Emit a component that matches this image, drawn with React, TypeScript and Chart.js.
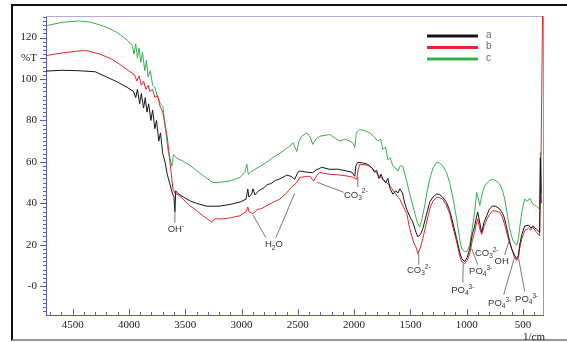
import React, { useEffect, useRef } from "react";
import { Chart, registerables } from "chart.js";

Chart.register(...registerables);

// ---- data (wavenumber in 1/cm, %T) ----
const aWn = [4737, 4600, 4450, 4300, 4200, 4100, 4018, 3960, 3940, 3925, 3905, 3890, 3870, 3855, 3840, 3825, 3805, 3790, 3770, 3755, 3735, 3720, 3700, 3680, 3660, 3640, 3615, 3600, 3592, 3585, 3560, 3500, 3459, 3400, 3308, 3200, 3100, 3015, 2960, 2944, 2935, 2910, 2899, 2880, 2850, 2800, 2775, 2740, 2700, 2650, 2598, 2560, 2527, 2500, 2482, 2420, 2367, 2340, 2287, 2216, 2150, 2065, 2020, 1994, 1985, 1967, 1920, 1879, 1840, 1820, 1800, 1780, 1760, 1745, 1720, 1700, 1680, 1656, 1630, 1610, 1594, 1570, 1550, 1532, 1500, 1479, 1450, 1435, 1410, 1390, 1360, 1328, 1300, 1266, 1240, 1213, 1180, 1151, 1120, 1089, 1060, 1044, 1018, 995, 973, 950, 929, 915, 902, 885, 867, 845, 822, 800, 769, 740, 707, 680, 662, 640, 620, 600, 575, 556, 540, 530, 510, 485, 450, 430, 414, 380, 352, 345, 338];
const aT = [103.8, 104.2, 104.0, 103.5, 101, 98.5, 96, 94, 91, 95, 88, 93, 86, 91, 84, 88, 80, 85, 76, 80, 70, 74, 64, 60, 54, 50, 45, 43, 36, 46, 44.5, 42.5, 41.2, 40, 38.6, 38.6, 39.5, 40.6, 42, 46.9, 43, 44.5, 47, 44, 46, 47.5, 49, 49.5, 51, 52, 53.6, 53, 51.6, 55, 55.6, 55, 54.8, 56, 57.4, 56.4, 56.5, 55.6, 55, 53, 58, 59.7, 59.5, 58.8, 57, 55, 56, 52, 54, 51.6, 50, 52, 47, 44.4, 46, 45, 47, 45, 40, 37, 33, 31, 26, 23.8, 25, 27.7, 34, 40.6, 43, 44.5, 44.2, 43, 40.5, 36.5, 30, 22.9, 16, 13.3, 11.8, 14, 18, 25, 29, 33, 35.8, 31, 26, 31, 34, 37, 38.8, 38.5, 37.3, 35, 32.5, 27, 22, 18, 15, 13.3, 15, 19.7, 25, 29, 29.5, 28, 29, 27.5, 26, 62, 40];

const bWn = [4737, 4600, 4450, 4373, 4258, 4150, 4080, 3991, 3950, 3930, 3910, 3890, 3870, 3850, 3830, 3814, 3790, 3770, 3745, 3725, 3700, 3680, 3660, 3640, 3620, 3610, 3590, 3560, 3500, 3459, 3400, 3343, 3290, 3263, 3240, 3166, 3100, 3015, 2960, 2944, 2935, 2899, 2860, 2820, 2775, 2720, 2660, 2600, 2571, 2544, 2510, 2482, 2420, 2394, 2360, 2330, 2305, 2216, 2150, 2065, 2012, 1976, 1965, 1950, 1900, 1861, 1820, 1790, 1772, 1730, 1683, 1650, 1610, 1594, 1568, 1532, 1506, 1470, 1444, 1435, 1415, 1390, 1360, 1328, 1300, 1266, 1240, 1213, 1180, 1151, 1120, 1089, 1060, 1044, 1018, 995, 973, 950, 929, 915, 902, 885, 867, 845, 822, 800, 769, 740, 707, 680, 662, 640, 620, 600, 575, 556, 540, 530, 510, 485, 450, 430, 414, 380, 352, 340, 325];
const bT = [111.3, 112.5, 113.5, 113.7, 112, 109.5, 107, 103.5, 102, 99, 101.5, 97, 99, 95, 97, 94, 95, 91, 92, 87, 84, 78, 72, 62, 52, 47, 44.8, 44, 41, 38.9, 36.5, 34, 32, 30.9, 32.5, 32.5, 33, 34, 36, 38.2, 36, 35, 37, 37.5, 38.9, 40.5, 42, 45, 46.9, 48.4, 50, 52.5, 53, 53, 50.8, 53.5, 54.9, 54, 53.8, 53.2, 52.6, 51.6, 56, 58.8, 58.6, 58, 56, 54, 53, 51, 48.4, 46, 43, 42, 38.9, 35, 27.7, 21, 18, 15.7, 18, 22.9, 30, 37.3, 41, 43, 42.8, 42, 39, 35, 28, 21.4, 14, 11.8, 10.9, 12.5, 15.7, 22, 26, 30, 32.5, 28, 25, 29, 32, 34.5, 36.5, 36.2, 35.7, 33, 29.6, 25, 21, 18, 14, 12.3, 14, 18, 23, 26.7, 28, 27, 28.6, 26, 24.3, 60, 135];

const cWn = [4737, 4600, 4450, 4350, 4284, 4200, 4107, 4009, 3970, 3955, 3940, 3925, 3910, 3895, 3880, 3860, 3845, 3830, 3810, 3790, 3770, 3750, 3720, 3698, 3680, 3654, 3630, 3618, 3605, 3580, 3521, 3450, 3396, 3320, 3254, 3180, 3103, 3015, 2970, 2953, 2940, 2920, 2882, 2800, 2722, 2650, 2571, 2544, 2509, 2490, 2465, 2420, 2390, 2367, 2340, 2305, 2216, 2127, 2080, 2038, 2010, 1994, 1980, 1950, 1900, 1861, 1820, 1790, 1765, 1745, 1720, 1700, 1680, 1656, 1630, 1612, 1590, 1568, 1530, 1479, 1440, 1417, 1395, 1373, 1350, 1328, 1300, 1266, 1240, 1213, 1180, 1151, 1120, 1089, 1060, 1044, 1018, 995, 973, 950, 929, 911, 895, 884, 860, 840, 800, 769, 730, 707, 680, 662, 640, 618, 590, 556, 540, 530, 510, 485, 460, 440, 414, 380, 352, 345, 335];
const cT = [125.7, 127.3, 128, 127.5, 126.5, 125, 122.5, 118.5, 116, 112, 117, 110, 115, 108, 113, 104, 109, 101, 104, 97, 96, 92, 88, 86.7, 78, 66, 60, 58, 63.6, 62, 60.4, 58, 55.6, 52.5, 50, 50.2, 50.8, 52.5, 55, 58.8, 54, 55, 56.4, 59, 62, 64.5, 67.6, 69.3, 65, 70, 72.4, 74, 72, 68.4, 71, 72.4, 73.2, 70, 71, 70, 69, 66.9, 74, 75.6, 75, 74, 72, 70, 71, 66, 67, 61, 62, 58, 57, 55.6, 58, 58, 50, 38.9, 31, 28.6, 33, 38.9, 46, 51.7, 57, 59.7, 59.5, 58, 55, 50, 42, 32.5, 22, 18, 16.6, 17, 19.7, 28, 36, 45.3, 42, 38.9, 45, 48.4, 51, 51.6, 50.5, 49.3, 46, 42, 35, 27.7, 22, 19.7, 23, 27.7, 36, 42, 41, 42.5, 39.7, 38.5, 37.3, 64.5, 45];

const seriesLabels = ["a", "b", "c"];
const seriesColors = ["#151515", "#e3262c", "#35b04e"];

const xMin = 322;
const xMax = 4737;
const yMin = -13.9;
const yMax = 130.4;
const yUnitTickValue = 110; // where "%T" sits on the axis
const xUnitLabel = "1/cm";

// annotation labels: [text, 0 normal | -1 subscript | 1 superscript]
type Part = [string, number];
const CO3: Part[] = [["CO", 0], ["3", -1], ["2-", 1]];
const PO4: Part[] = [["PO", 0], ["4", -1], ["3-", 1]];
const annotations: { parts: Part[]; wn: number; t: number; leaders: number[][] }[] = [
  { parts: [["OH", 0], ["-", 1]], wn: 3583, t: 27.2, leaders: [[3592, 30.6, 3592, 38.7]] },
  { parts: [["H", 0], ["2", -1], ["O", 0]], wn: 2713, t: 20, leaders: [[2784, 23.4, 2899, 34.4], [2695, 23.4, 2527, 44.9]] },
  { parts: CO3, wn: 1985, t: 44, leaders: [[2092, 45.3, 2331, 50.2], [1967, 47.8, 1967, 52.6]] },
  { parts: CO3, wn: 1426, t: 7.5, leaders: [[1426, 10.4, 1426, 17.1]] },
  { parts: PO4, wn: 1035, t: -2, leaders: [[1035, 1.8, 1030, 10.9]] },
  { parts: PO4, wn: 876, t: 7, leaders: [[902, 10.4, 955, 18.1]] },
  { parts: CO3, wn: 822, t: 15.7, leaders: [] },
  { parts: [["OH", 0]], wn: 689, t: 11.8, leaders: [[662, 15.1, 627, 21.4]] },
  { parts: PO4, wn: 707, t: -8.3, leaders: [[671, -4, 574, 14.2]] },
  { parts: PO4, wn: 467, t: -6.4, leaders: [[485, -2.5, 538, 13.3]] },
];

const toPoints = (xs: number[], ys: number[]) => xs.map((x, i) => ({ x, y: ys[i] }));

const AXIS_COLOR = "#5b5bc6";

function drawRich(ctx: CanvasRenderingContext2D, parts: Part[], cx: number, cy: number) {
  const big = "9.5px 'Liberation Sans', Arial, sans-serif";
  const small = "6.5px 'Liberation Sans', Arial, sans-serif";
  let total = 0;
  const widths = parts.map(([s, k]) => {
    ctx.font = k === 0 ? big : small;
    const w = ctx.measureText(s).width;
    total += w;
    return w;
  });
  let x = cx - total / 2;
  ctx.textBaseline = "middle";
  ctx.textAlign = "left";
  parts.forEach(([s, k], i) => {
    ctx.font = k === 0 ? big : small;
    const dy = k === -1 ? 3 : k === 1 ? -3.5 : 0;
    ctx.fillText(s, x, cy + dy);
    x += widths[i];
  });
}

const decorPlugin = {
  id: "decor",
  beforeDatasetsDraw(chart: any) {
    const { ctx, chartArea: ca } = chart;
    ctx.save();
    ctx.lineWidth = 1;
    ctx.strokeStyle = "#bca8d8";
    ctx.beginPath();
    ctx.moveTo(ca.left, ca.top + 0.5);
    ctx.lineTo(ca.right, ca.top + 0.5);
    ctx.stroke();
    ctx.strokeStyle = "#9c8fd0";
    ctx.beginPath();
    ctx.moveTo(ca.right + 0.5, ca.top);
    ctx.lineTo(ca.right + 0.5, ca.bottom);
    ctx.stroke();
    ctx.restore();
  },
  afterDraw(chart: any) {
    const { ctx, chartArea: ca, scales } = chart;
    const xs = scales.x;
    const ys = scales.y;
    ctx.save();
    // tick marks
    ctx.strokeStyle = AXIS_COLOR;
    ctx.lineWidth = 1;
    ys.ticks.forEach((t: any) => {
      const py = Math.round(ys.getPixelForValue(t.value)) + 0.5;
      const major = t.value % 20 === 0 || t.value === yUnitTickValue;
      const len = major ? 6 : 3;
      ctx.beginPath();
      ctx.moveTo(ca.left - len, py);
      ctx.lineTo(ca.left, py);
      ctx.stroke();
    });
    xs.ticks.forEach((t: any) => {
      const px = Math.round(xs.getPixelForValue(t.value)) + 0.5;
      const len = t.value % 500 === 0 ? 6 : 3;
      ctx.beginPath();
      ctx.moveTo(px, ca.bottom);
      ctx.lineTo(px, ca.bottom - len);
      ctx.stroke();
    });
    // unit label
    ctx.fillStyle = "#222";
    ctx.font = "11px 'Liberation Serif', 'Times New Roman', serif";
    ctx.textAlign = "right";
    ctx.textBaseline = "middle";
    ctx.fillText(xUnitLabel, ca.right + 2, ca.bottom + 22);
    // legend
    chart.data.datasets.forEach((ds: any, i: number) => {
      const y = ca.top + 20 + i * 11.5;
      ctx.strokeStyle = ds.borderColor;
      ctx.lineWidth = 3;
      ctx.beginPath();
      ctx.moveTo(ca.right - 116, y);
      ctx.lineTo(ca.right - 65, y);
      ctx.stroke();
      ctx.fillStyle = "#666";
      ctx.font = "10px 'Liberation Sans', Arial, sans-serif";
      ctx.textAlign = "left";
      ctx.textBaseline = "middle";
      ctx.fillText(ds.label, ca.right - 57, y - 1);
    });
    // annotations
    ctx.strokeStyle = "#555";
    ctx.lineWidth = 0.8;
    ctx.fillStyle = "#333";
    annotations.forEach((a) => {
      a.leaders.forEach(([x1, y1, x2, y2]) => {
        ctx.beginPath();
        ctx.moveTo(xs.getPixelForValue(x1), ys.getPixelForValue(y1));
        ctx.lineTo(xs.getPixelForValue(x2), ys.getPixelForValue(y2));
        ctx.stroke();
      });
      drawRich(ctx, a.parts, xs.getPixelForValue(a.wn), ys.getPixelForValue(a.t));
    });
    ctx.restore();
  },
};

export default function App() {
  const canvasRef = useRef<HTMLCanvasElement | null>(null);

  useEffect(() => {
    const canvas = canvasRef.current;
    if (!canvas) return;
    const series = [
      toPoints(aWn, aT),
      toPoints(bWn, bT),
      toPoints(cWn, cT),
    ];
    const tickFont = { family: "'Liberation Serif', 'Times New Roman', serif", size: 11 };
    const chart = new Chart(canvas, {
      type: "line",
      data: {
        datasets: series.map((pts, i) => ({
          label: seriesLabels[i],
          data: pts,
          borderColor: seriesColors[i],
          backgroundColor: seriesColors[i],
          borderWidth: 1,
          pointRadius: 0,
          tension: 0,
          fill: false,
        })),
      },
      options: {
        animation: false,
        responsive: false,
        devicePixelRatio: 1,
        layout: { padding: { top: 16, right: 24, left: 0, bottom: 0 } },
        plugins: { legend: { display: false }, tooltip: { enabled: false } },
        scales: {
          x: {
            type: "linear",
            reverse: true,
            min: xMin,
            max: xMax,
            afterFit: (s: any) => { s.height = 27; },
            grid: { display: true, drawOnChartArea: false, drawTicks: false },
            border: { display: true, color: AXIS_COLOR, width: 1 },
            ticks: {
              stepSize: 100,
              autoSkip: false,
              includeBounds: false,
              maxRotation: 0,
              padding: 4,
              color: "#222",
              font: tickFont,
              callback: (v: any) => (Number(v) % 500 === 0 ? String(v) : ""),
            },
          },
          y: {
            type: "linear",
            min: yMin,
            max: yMax,
            afterFit: (s: any) => { s.width = 46; },
            grid: { display: true, drawOnChartArea: false, drawTicks: false },
            border: { display: true, color: AXIS_COLOR, width: 1 },
            ticks: {
              stepSize: 2,
              autoSkip: false,
              includeBounds: false,
              padding: 9,
              color: "#222",
              font: tickFont,
              callback: (v: any) => {
                const n = Math.round(Number(v));
                if (n === yUnitTickValue) return "%T";
                if (n === 0) return "-0";
                if (n > 0 && n % 20 === 0) return String(n);
                return "";
              },
            },
          },
        },
      },
      plugins: [decorPlugin],
    } as any);
    return () => chart.destroy();
  }, []);

  return (
    <div style={{ position: "fixed", left: 0, top: 0, width: 567, height: 342, background: "#fff", overflow: "hidden" }}>
      <div
        style={{
          position: "absolute",
          left: 11,
          top: 4,
          width: 600,
          height: 333,
          borderTop: "2px solid #111",
          borderLeft: "2px solid #111",
          borderBottom: "2px solid #999",
        }}
      />
      <canvas ref={canvasRef} width={567} height={342} style={{ position: "absolute", left: 0, top: 0, width: 567, height: 342 }} />
    </div>
  );
}
